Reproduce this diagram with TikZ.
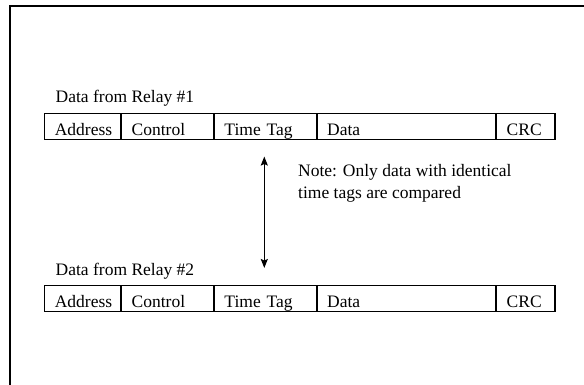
\documentclass[tikz,border=0pt]{standalone}
\usepackage{fontspec}
\setmainfont{Liberation Serif}
\usetikzlibrary{arrows.meta}

\tikzset{
  txt/.style={font=\fontsize{17.5}{21.7}\selectfont, inner sep=0pt},
  cell/.style={draw, line width=1.1pt, anchor=north west, txt,
    inner xsep=10pt, inner ysep=0pt, text height=22pt, text depth=4.5pt,
    align=left, text width=#1-20pt},
  frameline/.style={line width=2.2pt},
  tip/.style={Stealth[length=9pt,width=7pt,inset=1.5pt]},
  link/.style={line width=1.3pt, {Stealth[length=9pt,width=7pt,inset=1.5pt]}-{Stealth[length=9pt,width=7pt,inset=1.5pt]}}
}

\begin{document}
\begin{tikzpicture}[x=1pt,y=-1pt]
\useasboundingbox (0,0) rectangle (584,384);

% outer frame, running off the right and bottom edges
\coordinate (fb) at (10,390);
\coordinate (fr) at (590,5.7);
\draw[frameline] (fb) |- (fr);

% first record
\node[txt, anchor=base west] (lab1) at (55.5,102) {Data from Relay \#1};
\node[cell=75.7pt] (a1) at (44.3,112.7) {Address};
\node[cell=91.7pt] (c1) at (a1.north east) {Control};
\node[cell=101.6pt] (t1) at (c1.north east) {Time Tag};
\node[cell=178.4pt] (d1) at (t1.north east) {Data};
\node[cell=58.3pt] (r1) at (d1.north east) {CRC};

% second record
\node[txt, anchor=base west] (lab2) at (55.5,275) {Data from Relay \#2};
\node[cell=75.7pt] (a2) at (44.3,284.5) {Address};
\node[cell=91.7pt] (c2) at (a2.north east) {Control};
\node[cell=101.6pt] (t2) at (c2.north east) {Time Tag};
\node[cell=178.4pt] (d2) at (t2.north east) {Data};
\node[cell=58.3pt] (r2) at (d2.north east) {CRC};

% comparison arrow and note
\coordinate (up) at (264.3,156.5);
\coordinate (dn) at (264.3,268);
\draw[link] (up) -- (dn);
\node[txt, anchor=base west, align=left] (note) at (298,198.3)
  {Note: Only data with identical\\time tags are compared};
\end{tikzpicture}
\end{document}
